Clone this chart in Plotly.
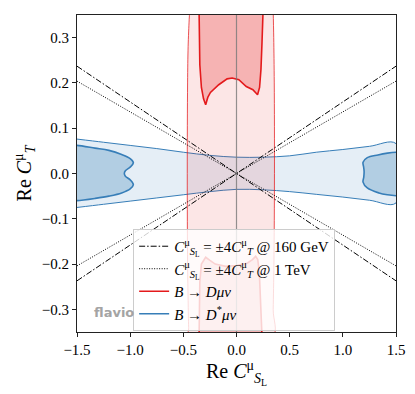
import plotly.graph_objects as go

# ---- data ----
x_range = [-1.5, 1.5]
y_range = [-0.35, 0.35]
x_ticks = [-1.5, -1.0, -0.5, 0.0, 0.5, 1.0, 1.5]
y_ticks = [-0.3, -0.2, -0.1, 0.0, 0.1, 0.2, 0.3]

# slopes of C_T vs C_SL for the two scale relations
slope_160GeV = 0.158
slope_1TeV = 0.136
line_x = [-1.5, 1.5]

# B -> D mu nu : outer (2 sigma) region
red_outer_x = [-0.44, -0.445, -0.455, -0.46, -0.463, -0.46, -0.455, -0.45, -0.445,
               0.34, 0.345, 0.352, 0.357, 0.355, 0.35, 0.345]
red_outer_y = [0.36, 0.34, 0.28, 0.2, 0.0, -0.2, -0.28, -0.34, -0.36,
               -0.36, -0.3, -0.2, 0.0, 0.2, 0.3, 0.36]
# inner (1 sigma) regions
red_in_top_x = [-0.352, -0.349, -0.345, -0.33, -0.31, -0.29, -0.27, -0.245, -0.167, -0.088,
                -0.041, 0.022, 0.092, 0.154, 0.198, 0.217, 0.23, 0.24, 0.248, 0.25]
red_in_top_y = [0.36, 0.30, 0.24, 0.19, 0.165, 0.152, 0.168, 0.179, 0.196, 0.209,
                0.211, 0.207, 0.192, 0.185, 0.174, 0.19, 0.23, 0.29, 0.34, 0.36]
red_in_bot_x = [-0.352, -0.35, -0.345, -0.33, -0.29, -0.25, -0.2, -0.1, 0.0, 0.1,
                0.15, 0.18, 0.2, 0.215, 0.225, 0.235, 0.24]
red_in_bot_y = [-0.36, -0.30, -0.24, -0.20, -0.185, -0.192, -0.2, -0.205, -0.203, -0.198,
                -0.19, -0.183, -0.19, -0.22, -0.28, -0.34, -0.36]

# B -> D* mu nu : outer band
blue_band_x = [-1.5, -1.25, -1.0, -0.75, -0.5, -0.25, 0.0, 0.25, 0.5, 0.75, 1.0, 1.25, 1.5]
blue_band_top = [0.076, 0.069, 0.062, 0.055, 0.047, 0.040, 0.036, 0.036, 0.039, 0.047, 0.053, 0.060, 0.066]
blue_band_bot = [-0.075, -0.068, -0.061, -0.054, -0.047, -0.040, -0.035, -0.036, -0.040, -0.046, -0.052, -0.059, -0.065]
# inner regions
blue_in_left_x = [-1.55, -1.5, -1.33, -1.2, -1.08, -1.0, -0.97, -1.0, -1.045, -1.055,
                  -1.045, -1.0, -0.97, -1.0, -1.08, -1.2, -1.33, -1.5, -1.55]
blue_in_left_y = [0.062, 0.062, 0.056, 0.051, 0.042, 0.033, 0.024, 0.014, 0.006, 0.0,
                  -0.006, -0.014, -0.025, -0.034, -0.043, -0.050, -0.055, -0.060, -0.060]
blue_in_right_x = [1.55, 1.5, 1.42, 1.33, 1.23, 1.19, 1.195, 1.2, 1.197, 1.19, 1.23, 1.34, 1.42, 1.5, 1.55]
blue_in_right_y = [0.047, 0.047, 0.045, 0.041, 0.035, 0.025, 0.015, 0.005, -0.008, -0.019,
                   -0.032, -0.043, -0.047, -0.049, -0.049]

labels = [
    "<i>C</i><sup>μ</sup><sub><i>S</i><sub>L</sub></sub> = ±4<i>C</i><sup>μ</sup><sub><i>T</i></sub> @ 160 GeV",
    "<i>C</i><sup>μ</sup><sub><i>S</i><sub>L</sub></sub> = ±4<i>C</i><sup>μ</sup><sub><i>T</i></sub> @ 1 TeV",
    "<i>B</i> → <i>Dμν</i>",
    "<i>B</i> → <i>D</i><sup>*</sup><i>μν</i>",
]

RED = "rgb(228,26,28)"
BLUE = "rgb(55,126,184)"
FONT = "Liberation Serif"

fig = go.Figure()

# blue band
fig.add_trace(go.Scatter(x=blue_band_x + blue_band_x[::-1], y=blue_band_top + blue_band_bot[::-1],
                         mode="lines", fill="toself", fillcolor="rgba(55,126,184,0.13)",
                         line=dict(color=BLUE, width=1), line_shape="spline",
                         showlegend=False, hoverinfo="skip"))
for xs, ys in [(blue_in_left_x, blue_in_left_y), (blue_in_right_x, blue_in_right_y)]:
    fig.add_trace(go.Scatter(x=xs, y=ys, mode="lines", fill="toself",
                             fillcolor="rgba(55,126,184,0.29)",
                             line=dict(color=BLUE, width=1.6), line_shape="spline",
                             showlegend=False, hoverinfo="skip"))
# red regions
fig.add_trace(go.Scatter(x=red_outer_x, y=red_outer_y, mode="lines", fill="toself",
                         fillcolor="rgba(228,26,28,0.11)",
                         line=dict(color="rgba(228,26,28,0.75)", width=1), line_shape="spline",
                         showlegend=False, hoverinfo="skip"))
for xs, ys in [(red_in_top_x, red_in_top_y), (red_in_bot_x, red_in_bot_y)]:
    fig.add_trace(go.Scatter(x=xs, y=ys, mode="lines", fill="toself",
                             fillcolor="rgba(228,26,28,0.25)",
                             line=dict(color=RED, width=1.6),
                             showlegend=False, hoverinfo="skip"))

# scale-relation lines
for k, dash, name in [(slope_160GeV, "6px,2px,1.5px,2px", labels[0]),
                      (slope_1TeV, "1px,1.5px", labels[1])]:
    for sgn, show in [(1, True), (-1, False)]:
        fig.add_trace(go.Scatter(x=line_x, y=[sgn * k * v for v in line_x], mode="lines",
                                 line=dict(color="black", width=1, dash=dash),
                                 name=name, showlegend=show, hoverinfo="skip"))

# legend-only entries for the regions
fig.add_trace(go.Scatter(x=[None], y=[None], mode="lines", line=dict(color=RED, width=1.5), name=labels[2]))
fig.add_trace(go.Scatter(x=[None], y=[None], mode="lines", line=dict(color=BLUE, width=1.5), name=labels[3]))

fig.add_shape(type="line", xref="x", yref="paper", x0=0, x1=0, y0=0, y1=1,
              line=dict(color="rgba(120,120,120,0.8)", width=1.2), layer="above")

fig.add_annotation(text="<b>flavio</b>", xref="paper", yref="paper", x=0.048, y=0.03,
                   xanchor="left", yanchor="bottom", showarrow=False,
                   font=dict(family="DejaVu Sans", size=13, color="#a4a4a4"))

axis_common = dict(showgrid=False, zeroline=False, showline=True, mirror=True,
                   linecolor="#222", linewidth=1.2, ticks="outside", ticklen=4,
                   tickcolor="#222", automargin=False,
                   tickfont=dict(family=FONT, size=15, color="black"))

fig.update_xaxes(range=x_range, tickvals=x_ticks, tickformat=".1f",
                 title=dict(text="Re <i>C</i><sup>μ</sup><sub><i>S</i><sub>L</sub></sub>",
                            font=dict(family=FONT, size=20, color="black"), standoff=2),
                 **axis_common)
fig.update_yaxes(range=y_range, tickvals=y_ticks, tickformat=".1f",
                 title=dict(text="Re <i>C</i><sup>μ</sup><sub><i>T</i></sub>",
                            font=dict(family=FONT, size=20, color="black"), standoff=4),
                 **axis_common)

fig.update_layout(
    width=407, height=386,
    margin=dict(l=69, r=19, t=7, b=62),
    plot_bgcolor="white", paper_bgcolor="white",
    font=dict(family=FONT, color="black"),
    legend=dict(x=0.176, y=0.325, xanchor="left", yanchor="top",
                bgcolor="rgba(255,255,255,0.8)", bordercolor="rgba(204,204,204,1)",
                borderwidth=1, font=dict(family=FONT, size=15, color="black"),
                itemwidth=30, tracegroupgap=0),
)

fig.write_html("out.html")
